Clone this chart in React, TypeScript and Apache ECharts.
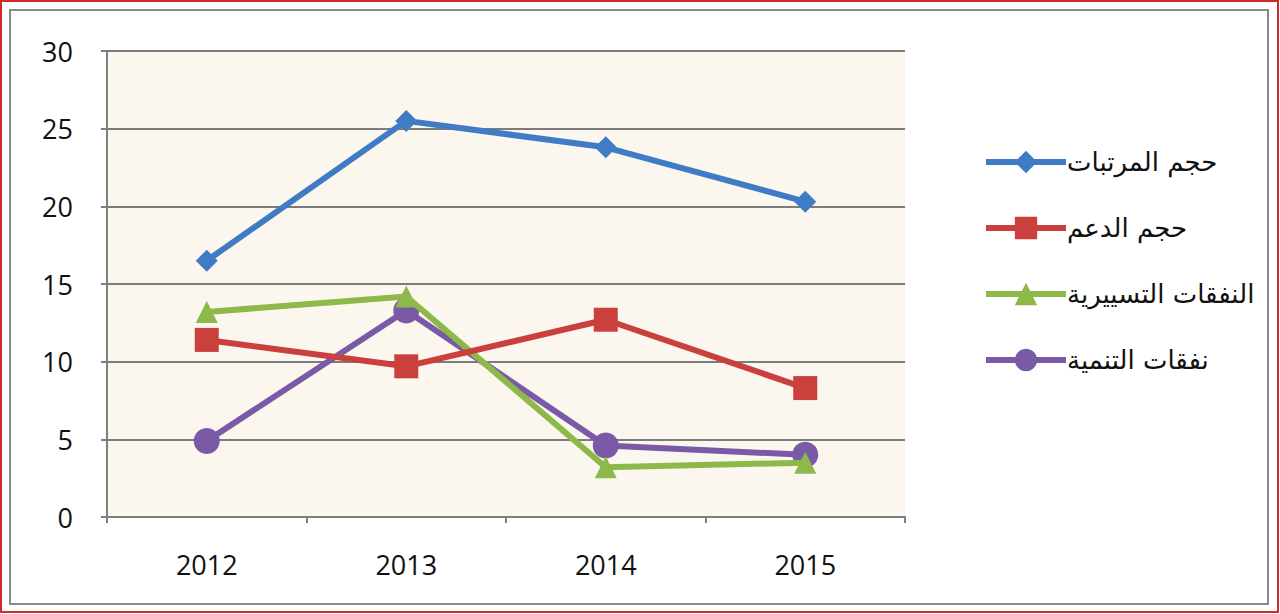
import React, { useEffect, useRef } from "react";
import * as echarts from "echarts";

const years = ["2012", "2013", "2014", "2015"];
const salaries = [16.5, 25.5, 23.8, 20.3];
const subsidies = [11.4, 9.7, 12.7, 8.3];
const operating = [13.2, 14.2, 3.2, 3.5];
const development = [4.9, 13.3, 4.6, 4.0];
const seriesNames = ["حجم المرتبات", "حجم الدعم", "النفقات التسييرية", "نفقات التنمية"];
const seriesColors = ["#3f7cc5", "#c9403d", "#8db84a", "#7a5aa6"];
const seriesSymbols = ["diamond", "rect", "triangle", "circle"];
const symbolSizes = [22, 24, 22, 26];

export default function App() {
  const ref = useRef<HTMLDivElement>(null);
  useEffect(() => {
    document.body.style.margin = "0";
    const chart = echarts.init(ref.current!, null, { renderer: "svg" });
    const data = [salaries, subsidies, operating, development];
    chart.setOption({
      animation: false,
      backgroundColor: "#ffffff",
      textStyle: { fontFamily: "'Liberation Sans', 'DejaVu Sans', sans-serif" },
      graphic: [
        { type: "rect", shape: { x: 1, y: 1, width: 1277, height: 611 }, style: { fill: "none", stroke: "#d02a2a", lineWidth: 2 } },
        { type: "rect", shape: { x: 10, y: 10, width: 1258, height: 594 }, style: { fill: "none", stroke: "#8a8a8a", lineWidth: 2 } },
      ],
      grid: {
        left: 107,
        top: 51,
        right: 375,
        bottom: 97,
        show: true,
        backgroundColor: "#fbf7ef",
        borderWidth: 0,
      },
      legend: {
        orient: "vertical",
        left: 978,
        top: 144,
        itemGap: 40,
        itemWidth: 80,
        itemHeight: 28,
        data: seriesNames,
        lineStyle: { width: 6 },
        textStyle: { fontSize: 26, color: "#111", fontFamily: "'DejaVu Sans', sans-serif", padding: [0, 0, 0, -4] },
      },
      xAxis: {
        type: "category",
        data: years,
        boundaryGap: true,
        axisLine: { lineStyle: { color: "#808080", width: 2 } },
        axisTick: { show: true, length: 6, lineStyle: { color: "#808080", width: 2 } },
        axisLabel: { fontSize: 27, color: "#111", margin: 34, fontFamily: "'Open Sans', sans-serif" },
      },
      yAxis: {
        type: "value",
        min: 0,
        max: 30,
        interval: 5,
        axisLine: { show: true, lineStyle: { color: "#808080", width: 2 } },
        axisTick: { show: true, length: 6, lineStyle: { color: "#808080", width: 2 } },
        splitLine: { lineStyle: { color: "#7c7c7c", width: 2 } },
        axisLabel: { fontSize: 27, color: "#111", margin: 34, fontFamily: "'Open Sans', sans-serif" },
      },
      series: seriesNames.map((name, i) => ({
        name,
        type: "line",
        data: data[i],
        symbol: seriesSymbols[i],
        symbolSize: symbolSizes[i],
        lineStyle: { width: 6, color: seriesColors[i] },
        itemStyle: { color: seriesColors[i] },
        z: 10 - i,
      })),
    });
    return () => chart.dispose();
  }, []);
  return <div ref={ref} style={{ width: 1280, height: 614 }} />;
}
